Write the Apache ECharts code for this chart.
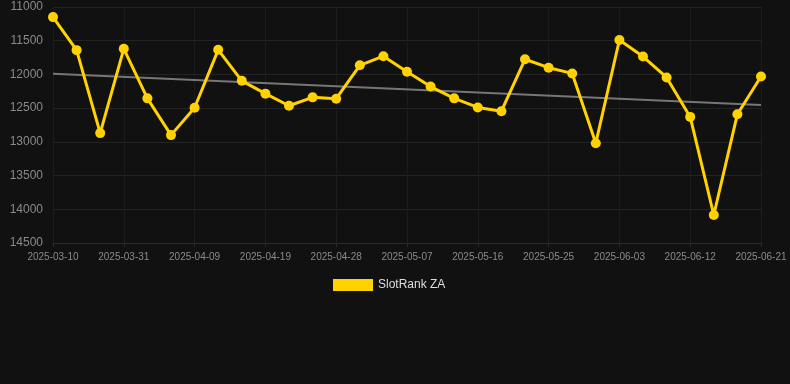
<!DOCTYPE html>
<html>
<head>
<meta charset="utf-8">
<script src="https://cdn.jsdelivr.net/npm/echarts@6/dist/echarts.min.js"></script>
<style>
html, body { margin: 0; padding: 0; background: #111111; }
#main { width: 790px; height: 384px; }
</style>
</head>
<body>
<div id="main"></div>
<script>
var dates = ['2025-03-10', '2025-03-17', '2025-03-24', '2025-03-31', '2025-04-03', '2025-04-06',
    '2025-04-09', '2025-04-12', '2025-04-16', '2025-04-19', '2025-04-22', '2025-04-25',
    '2025-04-28', '2025-05-01', '2025-05-04', '2025-05-07', '2025-05-10', '2025-05-13',
    '2025-05-16', '2025-05-19', '2025-05-22', '2025-05-25', '2025-05-28', '2025-05-31',
    '2025-06-03', '2025-06-06', '2025-06-09', '2025-06-12', '2025-06-15', '2025-06-18',
    '2025-06-21'];
var rankValues = [11150, 11640, 12870, 11620, 12355, 12900, 12495, 11635, 12095, 12285,
    12465, 12340, 12360, 11865, 11730, 11960, 12180, 12355, 12490, 12545,
    11775, 11900, 11985, 13020, 11490, 11735, 12045, 12630, 14085, 12590, 12030];
// trend line: only the two ends are known, the rest is left empty
var trendValues = [11990, null, null, null, null, null, null, null, null, null,
    null, null, null, null, null, null, null, null, null, null,
    null, null, null, null, null, null, null, null, null, null, 12455];
var yTicks = { min: 11000, max: 14500, step: 500 };

var myChart = echarts.init(document.getElementById('main'));
var option = {
    backgroundColor: '#111111',
    animation: false,
    grid: {
        left: 53,
        right: 29,
        top: 7,
        bottom: 141
    },
    legend: {
        bottom: 88,
        left: 328,
        itemWidth: 40,
        itemHeight: 12,
        itemGap: 10,
        icon: 'rect',
        data: ['SlotRank ZA'],
        textStyle: { color: '#dddddd', fontSize: 12, fontFamily: 'Liberation Sans, Arial, sans-serif' }
    },
    xAxis: {
        type: 'category',
        data: dates,
        boundaryGap: false,
        axisLine: { show: true, lineStyle: { color: '#2a2a2a' } },
        axisTick: { show: true, interval: 2, length: 4, lineStyle: { color: '#2a2a2a' } },
        axisLabel: {
            interval: 2,
            color: '#8a8a8a',
            fontSize: 10,
            margin: 9,
            fontFamily: 'Liberation Sans, Arial, sans-serif'
        },
        splitLine: { show: true, interval: 2, lineStyle: { color: '#1c1c1c' } }
    },
    yAxis: {
        type: 'value',
        inverse: true,
        min: yTicks.min,
        max: yTicks.max,
        interval: yTicks.step,
        axisLine: { show: false },
        axisTick: { show: false },
        axisLabel: {
            color: '#8a8a8a',
            fontSize: 12,
            margin: 10,
            formatter: function (v) { return String(v); },
            fontFamily: 'Liberation Sans, Arial, sans-serif'
        },
        splitLine: { lineStyle: { color: '#232323' } }
    },
    series: [
        {
            name: 'Trend',
            type: 'line',
            data: trendValues,
            connectNulls: true,
            symbol: 'none',
            silent: true,
            lineStyle: { color: '#777777', width: 2 },
            z: 1
        },
        {
            name: 'SlotRank ZA',
            type: 'line',
            data: rankValues,
            symbol: 'circle',
            symbolSize: 10,
            itemStyle: { color: '#FFD200' },
            lineStyle: { color: '#FFD200', width: 3 },
            z: 2
        }
    ]
};
myChart.setOption(option);
</script>
</body>
</html>
